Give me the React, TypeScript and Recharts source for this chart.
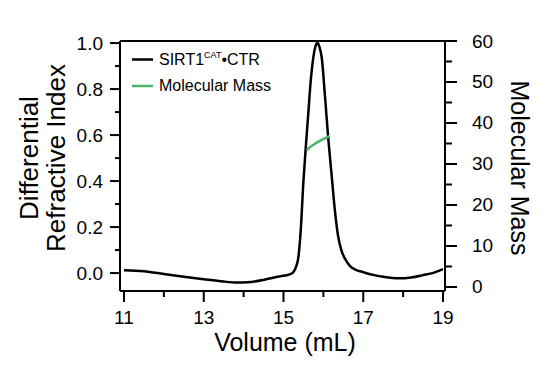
import { LineChart, Line, XAxis, YAxis, ReferenceLine } from "recharts";

// elution volume (mL) and differential refractive index trace
const driVolume = [
  11.0, 11.5, 12.0, 12.5, 13.0, 13.5, 13.8, 14.1, 14.5, 14.8, 15.0, 15.15, 15.25,
  15.32, 15.37, 15.43, 15.5, 15.56, 15.62, 15.68, 15.75, 15.8, 15.85, 15.9, 15.96,
  16.04, 16.12, 16.21, 16.29, 16.37, 16.45, 16.55, 16.67, 16.8, 17.0, 17.25, 17.5,
  17.9, 18.2, 18.5, 18.76, 19.0,
];
const driValues = [
  0.012, 0.008, -0.004, -0.016, -0.027, -0.037, -0.041, -0.04, -0.03, -0.018, -0.012,
  -0.006, 0.005, 0.03, 0.065, 0.18, 0.4, 0.55, 0.69, 0.83, 0.94, 0.985, 1.0, 0.985,
  0.935, 0.77, 0.59, 0.42, 0.27, 0.16, 0.1, 0.06, 0.03, 0.015, 0.004, -0.008, -0.016,
  -0.023, -0.019, -0.009, 0.001, 0.017,
];

// molecular mass across the peak
const massVolume = [15.58, 15.64, 15.7, 15.77, 15.83, 15.9, 15.96, 16.05, 16.15];
const massValues = [33.3, 33.9, 34.4, 34.8, 35.2, 35.6, 35.9, 36.3, 36.8];

const volumeTicks = [11, 12, 13, 14, 15, 16, 17, 18, 19];
const driTicks = [0, 0.1, 0.2, 0.3, 0.4, 0.5, 0.6, 0.7, 0.8, 0.9, 1.0];
const massTicks = [0, 5, 10, 15, 20, 25, 30, 35, 40, 45, 50, 55, 60];

const driData = driVolume.map((v, i) => ({ v, dri: driValues[i] }));
const massData = massVolume.map((v, i) => ({ v, mm: massValues[i] }));

const FONT = "'Liberation Sans', Arial, Helvetica, sans-serif";
const GREEN = "#4cb56c";

const LeftTick = (props: any) => {
  const { x, y, payload } = props;
  const major = Math.round(payload.value * 10) % 2 === 0;
  return (
    <g>
      <line x1={x} x2={x - (major ? 10 : 5)} y1={y} y2={y} stroke="#000" strokeWidth={2} />
      {major && (
        <text x={x - 17} y={y} textAnchor="end" dominantBaseline="central" fontSize={19} fontFamily={FONT} fill="#000">
          {payload.value.toFixed(1)}
        </text>
      )}
    </g>
  );
};

const RightTick = (props: any) => {
  const { x, y, payload } = props;
  const major = payload.value % 10 === 0;
  return (
    <g>
      <line x1={x} x2={x + (major ? 12 : 7)} y1={y} y2={y} stroke="#000" strokeWidth={2} />
      {major && (
        <text x={x + 27} y={y} textAnchor="start" dominantBaseline="central" fontSize={19} fontFamily={FONT} fill="#000">
          {payload.value}
        </text>
      )}
    </g>
  );
};

const BottomTick = (props: any) => {
  const { x, y, payload } = props;
  const major = payload.value % 2 === 1;
  return (
    <g>
      <line x1={x} x2={x} y1={y} y2={y + (major ? 11 : 6)} stroke="#000" strokeWidth={2} />
      {major && (
        <text x={x} y={y + 33} textAnchor="middle" fontSize={19} fontFamily={FONT} fill="#000">
          {payload.value}
        </text>
      )}
    </g>
  );
};

export default function App() {
  return (
    <div style={{ position: "fixed", left: 0, top: 0, width: 550, height: 378, background: "#fff" }}>
      <LineChart width={550} height={378} margin={{ top: 41, right: 45, bottom: 47, left: 60 }}>
        <XAxis
          dataKey="v"
          type="number"
          domain={[10.9, 19.05]}
          allowDataOverflow
          ticks={volumeTicks}
          interval={0}
          height={40}
          tickSize={0}
          tickMargin={0}
          tick={<BottomTick />}
          axisLine={{ stroke: "#000", strokeWidth: 2 }}
        />
        <YAxis
          yAxisId="left"
          domain={[-0.078, 1.009]}
          allowDataOverflow
          ticks={driTicks}
          interval={0}
          width={60}
          tickSize={0}
          tickMargin={0}
          tick={<LeftTick />}
          axisLine={{ stroke: "#000", strokeWidth: 2 }}
        />
        <YAxis
          yAxisId="right"
          orientation="right"
          domain={[-0.98, 60]}
          allowDataOverflow
          ticks={massTicks}
          interval={0}
          width={60}
          tickSize={0}
          tickMargin={0}
          tick={<RightTick />}
          axisLine={{ stroke: "#000", strokeWidth: 2 }}
        />
        <ReferenceLine yAxisId="left" y={1.009} stroke="#000" strokeWidth={2} />
        <Line
          yAxisId="left"
          data={driData}
          dataKey="dri"
          type="monotone"
          stroke="#000"
          strokeWidth={2.5}
          dot={false}
          isAnimationActive={false}
        />
        <Line
          yAxisId="right"
          data={massData}
          dataKey="mm"
          type="monotone"
          stroke={GREEN}
          strokeWidth={2.5}
          dot={false}
          isAnimationActive={false}
        />
      </LineChart>
      <svg
        width={550}
        height={378}
        style={{ position: "absolute", left: 0, top: 0, pointerEvents: "none" }}
        fontFamily={FONT}
        fill="#000"
      >
        {/* legend */}
        <line x1={132} x2={153} y1={59.5} y2={59.5} stroke="#000" strokeWidth={2.5} />
        <text x={159} y={65} fontSize={16}>
          SIRT1
          <tspan fontSize={9} dy={-7}>CAT</tspan>
          <tspan dy={7}>•CTR</tspan>
        </text>
        <line x1={132} x2={153} y1={86} y2={86} stroke={GREEN} strokeWidth={2.5} />
        <text x={159} y={91} fontSize={16}>Molecular Mass</text>

        {/* axis titles */}
        <text x={285} y={351} fontSize={25} textAnchor="middle">Volume (mL)</text>
        <text transform="translate(38,158) rotate(-90)" fontSize={26} textAnchor="middle">Differential</text>
        <text transform="translate(65,158) rotate(-90)" fontSize={26} textAnchor="middle">Refractive Index</text>
        <text transform="translate(511,168) rotate(90)" fontSize={25} textAnchor="middle">Molecular Mass</text>
      </svg>
    </div>
  );
}
